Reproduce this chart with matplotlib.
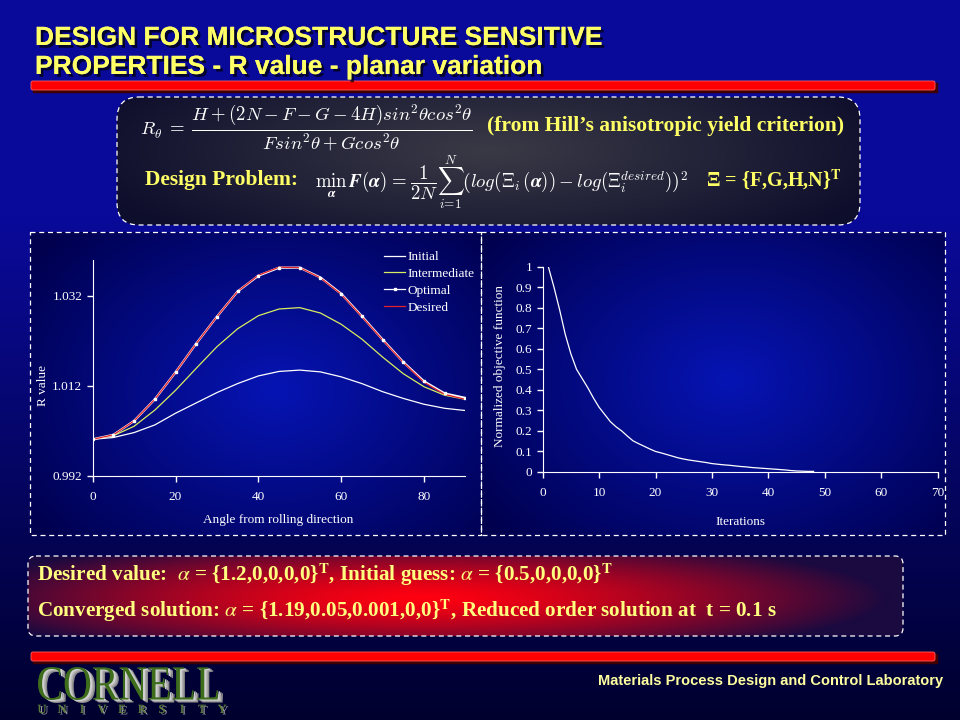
import numpy as np
import matplotlib
matplotlib.use("Agg")
import matplotlib.pyplot as plt
import matplotlib.patheffects as pe
from matplotlib.patches import FancyBboxPatch, Rectangle, PathPatch
from matplotlib.lines import Line2D
from matplotlib.textpath import TextPath
from matplotlib.font_manager import FontProperties
from matplotlib.transforms import Affine2D

plt.rcParams['font.family'] = ['Liberation Serif', 'DejaVu Serif']

# ---- data ----
angles = [0, 5, 10, 15, 20, 25, 30, 35, 40, 45, 50, 55, 60, 65, 70, 75, 80, 85, 90]
r_initial = [1.0001, 1.0005, 1.0016, 1.0033, 1.0059, 1.0082, 1.0105, 1.0125, 1.0142,
             1.0152, 1.0155, 1.0151, 1.0140, 1.0125, 1.0107, 1.0092, 1.0079, 1.0070, 1.0065]
r_intermediate = [1.0001, 1.0009, 1.0030, 1.0066, 1.0110, 1.0159, 1.0207, 1.0247, 1.0276,
                  1.0291, 1.0294, 1.0282, 1.0257, 1.0224, 1.0184, 1.0147, 1.0118, 1.0099, 1.0090]
r_optimal = [1.0001, 1.0011, 1.0042, 1.0090, 1.0150, 1.0214, 1.0274, 1.0330, 1.0365,
             1.0383, 1.0383, 1.0361, 1.0325, 1.0275, 1.0223, 1.0173, 1.0130, 1.0103, 1.0093]
r_desired = [1.0001, 1.0011, 1.0042, 1.0090, 1.0150, 1.0214, 1.0274, 1.0330, 1.0366,
             1.0384, 1.0383, 1.0360, 1.0324, 1.0274, 1.0222, 1.0172, 1.0128, 1.0101, 1.0090]

iterations = list(range(1, 49))
objective = [1.0, 0.90, 0.79, 0.67, 0.575, 0.50, 0.455, 0.41, 0.36, 0.315,
             0.28, 0.245, 0.22, 0.20, 0.175, 0.152, 0.138, 0.125, 0.112, 0.10,
             0.093, 0.085, 0.077, 0.069, 0.063, 0.058, 0.054, 0.050, 0.046, 0.041,
             0.038, 0.035, 0.033, 0.030, 0.027, 0.025, 0.022, 0.020, 0.018, 0.016,
             0.014, 0.012, 0.010, 0.007, 0.005, 0.004, 0.003, 0.003]

W, H = 960, 720
YELLOW = '#ffff66'
fig = plt.figure(figsize=(9.6, 7.2), dpi=100)

# background axes in pixel coordinates
bg = fig.add_axes([0, 0, 1, 1])
bg.set_xlim(0, W)
bg.set_ylim(H, 0)
bg.axis('off')


def hex_rgb(c):
    c = c.lstrip('#')
    return np.array([int(c[i:i + 2], 16) / 255 for i in (0, 2, 4)])


# slide gradient (blue top -> navy bottom)
t = np.clip((np.linspace(0, 1, 360) - 0.3) / 0.7, 0, 1)[:, None, None]
top, bot = hex_rgb('#0a0a9a'), hex_rgb('#00002e')
grad = top * (1 - t) + bot * t
bg.imshow(np.repeat(grad, 2, axis=1), extent=(0, W, H, 0), aspect='auto', zorder=0)


def radial(x0, y0, w, h, cx, cy, rx, ry, inner, outer, clip, power=1.0):
    xs = np.linspace(x0, x0 + w, 200)
    ys = np.linspace(y0, y0 + h, 120)
    X, Y = np.meshgrid(xs, ys)
    d = np.clip(np.sqrt(((X - cx) / rx) ** 2 + ((Y - cy) / ry) ** 2), 0, 1) ** power
    img = hex_rgb(inner) * (1 - d[..., None]) + hex_rgb(outer) * d[..., None]
    im = bg.imshow(img, extent=(x0, x0 + w, y0 + h, y0), aspect='auto', zorder=1)
    im.set_clip_path(clip)


# ---- title ----
shadow = [pe.withSimplePatchShadow(offset=(2, -2), shadow_rgbFace='black', alpha=0.7), pe.Normal()]
bg.text(35, 45, 'DESIGN FOR MICROSTRUCTURE SENSITIVE', fontsize=19, fontweight='bold',
        family='Liberation Sans', color=YELLOW, va='baseline', path_effects=shadow, zorder=5)
bg.text(35, 74, 'PROPERTIES - R value - planar variation', fontsize=19, fontweight='bold',
        family='Liberation Sans', color=YELLOW, va='baseline', path_effects=shadow, zorder=5)

for ybar in (81, 652):
    bg.add_patch(Rectangle((33, ybar + 2), 904, 9, color='#400000', zorder=2))
    bg.add_patch(FancyBboxPatch((31, ybar), 904, 9, boxstyle='round,pad=0,rounding_size=2',
                                facecolor='#ff0000', edgecolor='#ff6060', lw=0.6, zorder=3))

# ---- formula box ----
fbox = FancyBboxPatch((117, 97), 743, 128, boxstyle='round,pad=0,rounding_size=22',
                      facecolor='none', edgecolor='white', lw=0.9, ls=(0, (4, 3)), zorder=4)
bg.add_patch(fbox)
radial(117, 97, 743, 128, 490, 150, 430, 120, '#3a3a46', '#0d0d2c', fbox)

bg.text(140, 128, r'$R_\theta \;=\; \dfrac{H + (2N - F - G - 4H)sin^2\theta cos^2\theta}'
                  r'{F sin^2\theta + G cos^2\theta}$',
        fontsize=13.5, color='white', va='center', math_fontfamily='cm', zorder=5)
bg.text(487, 131, '(from Hill\u2019s anisotropic yield criterion)', fontsize=15.5, fontweight='bold',
        color=YELLOW, va='baseline', zorder=5)
bg.text(145, 185, 'Design Problem:', fontsize=15.5, fontweight='bold', color=YELLOW,
        va='baseline', zorder=5)
bg.text(315, 183, r'$\min_{\boldsymbol{\alpha}}\,\boldsymbol{F}(\boldsymbol{\alpha}) \;=\; \dfrac{1}{2N}'
                  r'\sum_{i=1}^{N}\left(log(\Xi_i(\boldsymbol{\alpha})) - log(\Xi_i^{desired})\right)^2$',
        fontsize=13.5, color='white', va='center', math_fontfamily='cm', zorder=5)
bg.text(706, 186, '\u039e = {F,G,H,N}$^{\\mathbf{T}}$', fontsize=14.5, fontweight='bold',
        color=YELLOW, va='baseline', math_fontfamily='stix', zorder=5)

# ---- chart panels ----
lpanel = Rectangle((30, 232), 451, 303, facecolor='none', edgecolor='white', lw=0.9,
                   ls=(0, (4, 3)), zorder=4)
rpanel = Rectangle((481, 232), 464, 303, facecolor='none', edgecolor='white', lw=0.9,
                   ls=(0, (4, 3)), zorder=4)
bg.add_patch(lpanel)
bg.add_patch(rpanel)
radial(30, 232, 451, 303, 275, 390, 300, 230, '#0614b4', '#00004e', lpanel)
radial(481, 232, 464, 303, 730, 380, 310, 230, '#0614b4', '#00004e', rpanel)

tick_kw = dict(colors='white', labelsize=9.5, direction='out', length=4, width=1)

ax1 = fig.add_axes([92.7 / W, 1 - 475.7 / H, 372.7 / W, 215.7 / H])
ax1.patch.set_alpha(0)
ax1.plot(angles, r_initial, color='white', lw=0.9, label='Initial')
ax1.plot(angles, r_intermediate, color='#d8ec60', lw=0.9, label='Intermediate')
ax1.plot(angles, r_optimal, color='white', lw=1.6)
ax1.plot(angles, r_desired, color='#e0202a', lw=0.9)
ax1.plot(angles, r_optimal, ls='none', marker='s', ms=2, color='white')
ax1.set_xlim(0, 90)
ax1.set_ylim(0.992, 1.040)
ax1.set_xticks([0, 20, 40, 60, 80])
ax1.set_yticks([0.992, 1.012, 1.032])
ax1.set_yticklabels(['0.992', '1.012', '1.032'])
ax1.tick_params(**tick_kw)
ax1.tick_params(axis='x', pad=7)
for s in ('top', 'right'):
    ax1.spines[s].set_visible(False)
for s in ('left', 'bottom'):
    ax1.spines[s].set_color('white')

handles = [Line2D([], [], color='white', lw=0.9),
           Line2D([], [], color='#d8ec60', lw=0.9),
           Line2D([], [], color='white', lw=0.9, marker='s', ms=2),
           Line2D([], [], color='#e0202a', lw=0.9)]
ax1.legend(handles, ['Initial', 'Intermediate', 'Optimal', 'Desired'], loc='upper left',
           bbox_to_anchor=(384 / W, 1 - 251 / H), bbox_transform=fig.transFigure,
           frameon=False, labelcolor='white', fontsize=9.5, handlelength=1.6,
           handletextpad=0.2, labelspacing=0.35, borderpad=0, borderaxespad=0)
bg.text(43, 385, 'R value', rotation=90, color='white', fontsize=9.5, ha='center',
        va='center', zorder=5)
bg.text(278, 520, 'Angle from rolling direction', color='white', fontsize=9.5,
        ha='center', va='center', zorder=5)

ax2 = fig.add_axes([542.7 / W, 1 - 472 / H, 395 / W, 205.3 / H])
ax2.patch.set_alpha(0)
ax2.plot(iterations, objective, color='white', lw=0.9)
ax2.set_xlim(0, 70)
ax2.set_ylim(0, 1)
ax2.set_xticks(range(0, 71, 10))
ax2.set_yticks(np.arange(0, 1.01, 0.1))
ax2.set_yticklabels(['0', '0.1', '0.2', '0.3', '0.4', '0.5', '0.6', '0.7', '0.8', '0.9', '1'])
ax2.tick_params(**tick_kw)
ax2.tick_params(axis='x', pad=7)
for s in ('top', 'right'):
    ax2.spines[s].set_visible(False)
for s in ('left', 'bottom'):
    ax2.spines[s].set_color('white')
bg.text(500, 366, 'Normalized objective function', rotation=90, color='white',
        fontsize=9.5, ha='center', va='center', zorder=5)
bg.text(740, 522, 'Iterations', color='white', fontsize=9.5, ha='center', va='center', zorder=5)

# ---- bottom summary box ----
sbox = FancyBboxPatch((28, 556), 875, 80, boxstyle='round,pad=0,rounding_size=8',
                      facecolor='none', edgecolor='white', lw=0.9, ls=(0, (4, 3)), zorder=4)
bg.add_patch(sbox)
radial(28, 556, 875, 80, 420, 598, 470, 62, '#ff0010', '#1a0a40', sbox, power=1.4)
bg.text(37, 581, 'Desired value:  $\\alpha$ = {1.2,0,0,0,0}$^{\\mathbf{T}}$, '
                 'Initial guess: $\\alpha$ = {0.5,0,0,0,0}$^{\\mathbf{T}}$',
        fontsize=15.2, fontweight='bold', color='#ffff80', va='baseline',
        math_fontfamily='stix', zorder=5)
bg.text(37, 617, 'Converged solution: $\\alpha$ = {1.19,0.05,0.001,0,0}$^{\\mathbf{T}}$, '
                 'Reduced order solution at  t = 0.1 s',
        fontsize=15.2, fontweight='bold', color='#ffff80', va='baseline',
        math_fontfamily='stix', zorder=5)

# ---- footer ----
bg.text(943, 685, 'Materials Process Design and Control Laboratory', fontsize=10.5,
        fontweight='bold', family='Liberation Sans', color='#ffffa0', ha='right',
        va='baseline', zorder=5)

tp = TextPath((0, 0), 'CORNELL', size=40, prop=FontProperties(family='Liberation Serif'))
ext = tp.get_extents()
sx, sy = 180 / ext.width, 33 / ext.height
for dx, dy, col in ((5, 3, '#8a8a8a'), (3.5, 2, '#b0b0b0'), (2, 1, '#d0d0d0'), (0, 0, '#3e6e1c')):
    tr = Affine2D().translate(-ext.x0, -ext.y0).scale(sx, -sy).translate(38 + dx, 700 + dy)
    bg.add_patch(PathPatch(tr.transform_path(tp), facecolor=col, edgecolor='none', zorder=5))
for i, ch in enumerate('UNIVERSITY'):
    bg.text(42 + i * 20, 713, ch, fontsize=9, color='#5a7a3a', family='Liberation Serif',
            ha='center', va='baseline', zorder=5,
            path_effects=[pe.withSimplePatchShadow(offset=(1.5, -1), shadow_rgbFace='#a0a0a0', alpha=1),
                          pe.Normal()])

plt.savefig('out.png', dpi=100)
